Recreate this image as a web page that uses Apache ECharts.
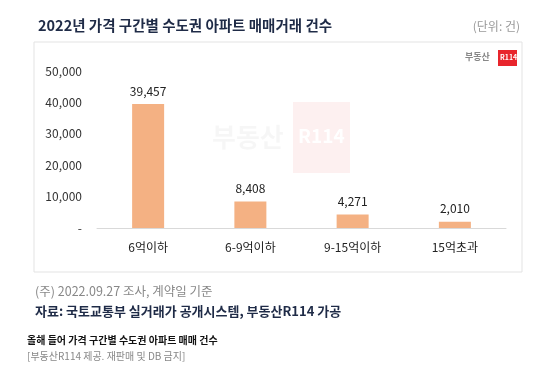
<!DOCTYPE html>
<html><head><meta charset="utf-8">
<script src="https://cdn.jsdelivr.net/npm/echarts@6/dist/echarts.min.js"></script>
<style>html,body{margin:0;padding:0;background:#fff;}#c{width:546px;height:369px;}</style>
</head><body><div id="c"></div>
<script>
const categories = ['6억이하', '6-9억이하', '9-15억이하', '15억초과'];
const values = [39457, 8408, 4271, 2010];
const yTicks = [0, 10000, 20000, 30000, 40000, 50000];

const FONT = '"Noto Sans CJK KR", "Noto Sans", sans-serif';
const chart = echarts.init(document.getElementById('c'), null, {renderer: 'canvas'});
chart.setOption({
  backgroundColor: '#fff',
  animation: false,
  textStyle: {fontFamily: FONT},
  title: {
    text: '2022년 가격 구간별 수도권 아파트 매매거래 건수',
    left: 33, top: 13,
    textStyle: {fontSize: 14.5, fontWeight: 'bold', color: '#1f2b47', fontFamily: FONT}
  },
  grid: {left: 97, right: 40, top: 71, bottom: 141, containLabel: false},
  xAxis: {
    type: 'category', data: categories,
    axisLine: {lineStyle: {color: '#d9d9d9'}},
    axisTick: {show: false},
    axisLabel: {color: '#222', fontSize: 12, margin: 13, fontFamily: FONT}
  },
  yAxis: {
    type: 'value', min: yTicks[0], max: yTicks[yTicks.length - 1], interval: 10000,
    splitLine: {show: false}, axisLine: {show: false}, axisTick: {show: false},
    axisLabel: {
      color: '#333', fontSize: 12, margin: 15, fontFamily: FONT,
      formatter: v => v === 0 ? '-' : v.toLocaleString('en-US')
    }
  },
  series: [{
    type: 'bar', data: values, barWidth: 32,
    itemStyle: {color: '#F4B183'},
    label: {
      show: true, position: 'top', distance: 7, color: '#222', fontSize: 12, fontFamily: FONT,
      formatter: p => p.value.toLocaleString('en-US')
    }
  }],
  graphic: [
    {type: 'rect', z: -10, shape: {x: 34, y: 42, width: 488, height: 230},
     style: {fill: 'none', stroke: '#e3e3e3', lineWidth: 1}},
    {type: 'text', right: 26, top: 20,
     style: {text: '(단위: 건)', fill: '#999', font: '12px ' + FONT}},
    {type: 'text', x: 465, y: 52,
     style: {text: '부동산', fill: '#888', font: 'bold 9px ' + FONT}},
    {type: 'rect', shape: {x: 498, y: 50, width: 19, height: 16}, style: {fill: '#e8252c'}},
    {type: 'text', x: 500, y: 54,
     style: {text: 'R114', fill: '#fff', font: 'bold 7px ' + FONT}},
    {type: 'rect', z: -5, shape: {x: 293, y: 102, width: 57, height: 71}, style: {fill: 'rgba(232,37,44,0.07)'}},
    {type: 'text', z: -5, x: 212, y: 124,
     style: {text: '부동산', fill: 'rgba(0,0,0,0.035)', font: 'bold 26px ' + FONT}},
    {type: 'text', z: -4, x: 298, y: 126,
     style: {text: 'R114', fill: '#ffffff', font: 'bold 19px ' + FONT}},
    {type: 'text', x: 35, y: 285,
     style: {text: '(주) 2022.09.27 조사, 계약일 기준', fill: '#888', font: '12.5px ' + FONT}},
    {type: 'text', x: 35, y: 305,
     style: {text: '자료: 국토교통부 실거래가 공개시스템, 부동산R114 가공', fill: '#1f2b47', font: 'bold 13px ' + FONT}},
    {type: 'text', x: 27, y: 335,
     style: {text: '올해 들어 가격 구간별 수도권 아파트 매매 건수', fill: '#111', font: 'bold 10px ' + FONT}},
    {type: 'text', x: 27, y: 351,
     style: {text: '[부동산R114 제공. 재판매 및 DB 금지]', fill: '#888', font: '10px ' + FONT}}
  ]
});
</script></body></html>
